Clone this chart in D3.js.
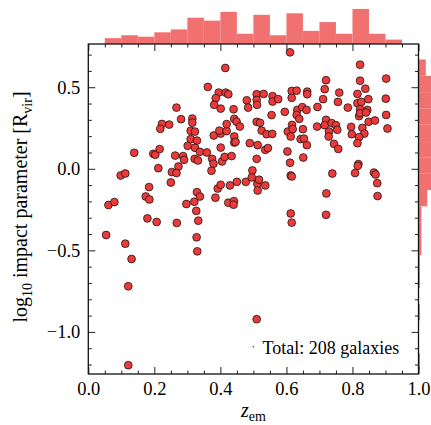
<!DOCTYPE html>
<html>
<head>
<meta charset="utf-8">
<script src="https://cdn.jsdelivr.net/npm/d3@7"></script>
<style>
  html, body { margin: 0; padding: 0; background: #fff; }
  svg { display: block; }
  text { font-family: "Liberation Serif", "DejaVu Serif", serif; fill: #000; }
</style>
</head>
<body>
<svg id="chart" width="431" height="425"></svg>
<script>
// Emission redshift of each absorber host and log10 of its impact parameter in virial radii
const zem = [
  0.415, 0.362, 0.395, 0.416, 0.424, 0.386, 0.381, 0.401, 0.440, 0.480,
  0.484, 0.510, 0.510, 0.511, 0.267, 0.281, 0.315, 0.315, 0.223, 0.245,
  0.218, 0.310, 0.323, 0.310, 0.329, 0.301, 0.323, 0.338, 0.359, 0.380,
  0.401, 0.397, 0.419, 0.419, 0.442, 0.449, 0.459, 0.442, 0.442, 0.446,
  0.401, 0.489, 0.513, 0.510, 0.520, 0.139, 0.197, 0.203, 0.216, 0.263,
  0.287, 0.290, 0.322, 0.332, 0.375, 0.379, 0.373, 0.405, 0.413, 0.434,
  0.510, 0.212, 0.273, 0.253, 0.267, 0.098, 0.112, 0.250, 0.184, 0.174,
  0.185, 0.061, 0.079, 0.329, 0.338, 0.392, 0.401, 0.385, 0.429, 0.450,
  0.477, 0.497, 0.495, 0.512, 0.513, 0.297, 0.321, 0.327, 0.424, 0.441,
  0.440, 0.179, 0.207, 0.268, 0.333, 0.328, 0.330, 0.054, 0.112, 0.131,
  0.121, 0.121, 0.510, 0.613, 0.616, 0.720, 0.611, 0.823, 0.902, 0.720,
  0.823, 0.839, 0.531, 0.558, 0.558, 0.575, 0.616, 0.631, 0.616, 0.663,
  0.663, 0.716, 0.711, 0.760, 0.756, 0.815, 0.815, 0.827, 0.848, 0.901,
  0.595, 0.633, 0.631, 0.648, 0.661, 0.639, 0.694, 0.786, 0.823, 0.820,
  0.845, 0.849, 0.868, 0.823, 0.841, 0.902, 0.525, 0.540, 0.557, 0.555,
  0.617, 0.604, 0.619, 0.613, 0.650, 0.693, 0.720, 0.716, 0.737, 0.750,
  0.729, 0.754, 0.728, 0.643, 0.653, 0.662, 0.796, 0.798, 0.830, 0.836,
  0.820, 0.815, 0.906, 0.744, 0.757, 0.536, 0.544, 0.603, 0.651, 0.611,
  0.818, 0.816, 0.613, 0.616, 0.739, 0.808, 0.865, 0.870, 0.875, 0.876,
  0.517, 0.536, 0.721
];
const logImpact = [
  0.618, 0.502, 0.467, 0.467, 0.457, 0.433, 0.392, 0.369, 0.365, 0.420,
  0.375, 0.457, 0.422, 0.392, 0.375, 0.304, 0.308, 0.283, 0.275, 0.271,
  0.245, 0.233, 0.228, 0.182, 0.173, 0.141, 0.129, 0.104, 0.100, 0.204,
  0.216, 0.234, 0.231, 0.274, 0.306, 0.289, 0.259, 0.198, 0.161, 0.165,
  0.130, 0.157, 0.145, 0.288, 0.282, 0.098, 0.092, 0.086, 0.121, 0.081,
  0.078, 0.055, 0.061, 0.051, 0.061, 0.031, -0.012, 0.045, 0.073, 0.078,
  0.061, 0.004, 0.014, -0.020, -0.026, -0.041, -0.029, -0.084, -0.112, -0.170,
  -0.188, -0.222, -0.204, -0.143, -0.170, -0.121, -0.098, -0.177, -0.102, -0.080,
  -0.080, -0.010, -0.053, -0.092, -0.133, -0.216, -0.202, -0.258, -0.208, -0.198,
  -0.220, -0.304, -0.326, -0.332, -0.318, -0.420, -0.506, -0.406, -0.459, -0.553,
  -0.720, -1.204, -0.922, -0.274, -0.330, -0.282, 0.714, 0.638, 0.553, 0.543,
  0.540, 0.491, 0.459, 0.445, 0.412, 0.427, 0.477, 0.479, 0.435, 0.473,
  0.457, 0.488, 0.427, 0.467, 0.410, 0.459, 0.402, 0.410, 0.427, 0.430,
  0.349, 0.361, 0.330, 0.378, 0.361, 0.306, 0.379, 0.375, 0.365, 0.323,
  0.361, 0.288, 0.296, 0.341, 0.345, 0.330, 0.234, 0.212, 0.214, 0.329,
  0.269, 0.228, 0.243, 0.198, 0.243, 0.259, 0.300, 0.267, 0.280, 0.267,
  0.228, 0.239, 0.198, 0.182, 0.185, 0.145, 0.257, 0.212, 0.251, 0.216,
  0.194, 0.157, 0.247, 0.153, 0.122, 0.116, 0.127, 0.106, 0.069, 0.037,
  0.029, 0.018, -0.041, -0.047, -0.029, -0.026, -0.023, -0.035, -0.088, -0.167,
  -0.067, -0.102, -0.151
];

// Marginal histogram of redshift: bin edges and galaxy counts
const zBinEdges = [0.05, 0.10, 0.15, 0.20, 0.25, 0.30, 0.35, 0.40, 0.45, 0.50,
                   0.55, 0.60, 0.65, 0.70, 0.75, 0.80, 0.85, 0.90, 0.95];
const zCounts = [4, 6, 5, 8, 10, 18, 16, 22, 7, 20, 6, 21, 9, 15, 7, 24, 7, 3];

// Marginal histogram of log impact parameter
const bBinEdges = [-1.23, -1.13, -1.03, -0.93, -0.83, -0.73, -0.63, -0.53, -0.43, -0.33, -0.23,
                   -0.13, -0.03, 0.07, 0.17, 0.27, 0.37, 0.47, 0.57, 0.67, 0.77];
const bCounts = [1, 0, 0, 1, 0, 1, 1, 2, 2, 2, 6, 20, 20, 20, 33, 36, 39, 14, 5, 0];

const xTicks = [0.0, 0.2, 0.4, 0.6, 0.8, 1.0];
const yTicks = [-1.0, -0.5, 0.0, 0.5];
const legendLabel = "Total: 208 galaxies";

const svg = d3.select("#chart");
const plotL = 88.3, plotR = 418.5, plotT = 44, plotB = 374;

const x = d3.scaleLinear().domain([0, 1]).range([plotL, plotR]);
const y = d3.scaleLinear().domain([-1.258, 0.765]).range([plotB, plotT]);

// count scales for the marginal panels
const hTop = d3.scaleLinear().domain([0, 25.2]).range([plotT, plotT - 36.8]);
const hRight = d3.scaleLinear().domain([0, 25.2]).range([plotR, plotR + 36.8]);

const histColor = "#f17171";

// top histogram
svg.append("g").selectAll("rect")
  .data(zCounts)
  .join("rect")
  .attr("x", (d, i) => x(zBinEdges[i]))
  .attr("width", (d, i) => x(zBinEdges[i + 1]) - x(zBinEdges[i]))
  .attr("y", d => hTop(d))
  .attr("height", d => hTop(0) - hTop(d))
  .attr("fill", histColor);

// right histogram (clipped to the main panel height)
svg.append("clipPath").attr("id", "rclip")
  .append("rect").attr("x", plotR).attr("y", plotT).attr("width", 60).attr("height", plotB - plotT);
svg.append("g").attr("clip-path", "url(#rclip)").selectAll("rect")
  .data(bCounts)
  .join("rect")
  .attr("x", plotR)
  .attr("y", (d, i) => y(bBinEdges[i + 1]))
  .attr("height", (d, i) => y(bBinEdges[i]) - y(bBinEdges[i + 1]))
  .attr("width", d => hRight(d) - hRight(0))
  .attr("fill", histColor);

// scatter points
const pts = zem.map((z, i) => ({ z, b: logImpact[i] }));
svg.append("g").selectAll("circle")
  .data(pts)
  .join("circle")
  .attr("cx", d => x(d.z))
  .attr("cy", d => y(d.b))
  .attr("r", 3.9)
  .attr("fill", "#ec3a3a")
  .attr("stroke", "#111")
  .attr("stroke-width", 0.75);

// axes: inward ticks on all four sides
const fmt = d => d3.format(".1f")(d).replace("-", "\u2212");
const xMinor = d3.range(0, 1.0001, 0.05).filter(v => Math.abs(v * 5 - Math.round(v * 5)) > 1e-6);
const yMinor = d3.range(-1.2, 0.75, 0.1).map(v => +v.toFixed(2)).filter(v => Math.abs(v * 2 - Math.round(v * 2)) > 1e-6);

function styleAxis(g) {
  g.select(".domain").remove();
  g.selectAll(".tick line").attr("stroke", "#222").attr("stroke-width", 1);
  g.selectAll(".tick text").style("font-family", "'Liberation Serif', serif").style("font-size", "18.5px").attr("fill", "#000");
}

svg.append("g").attr("transform", `translate(0,${plotB})`)
  .call(d3.axisBottom(x).tickValues(xTicks).tickSize(-7).tickPadding(8.3).tickFormat(fmt)).call(styleAxis);
svg.append("g").attr("transform", `translate(0,${plotB})`)
  .call(d3.axisBottom(x).tickValues(xMinor).tickSize(-3.5).tickFormat("")).call(styleAxis);
svg.append("g").attr("transform", `translate(0,${plotT})`)
  .call(d3.axisTop(x).tickValues(xTicks).tickSize(-7).tickFormat("")).call(styleAxis);
svg.append("g").attr("transform", `translate(0,${plotT})`)
  .call(d3.axisTop(x).tickValues(xMinor).tickSize(-3.5).tickFormat("")).call(styleAxis);

svg.append("g").attr("transform", `translate(${plotL},0)`)
  .call(d3.axisLeft(y).tickValues(yTicks).tickSize(-7).tickPadding(8).tickFormat(fmt)).call(styleAxis);
svg.append("g").attr("transform", `translate(${plotL},0)`)
  .call(d3.axisLeft(y).tickValues(yMinor).tickSize(-3.5).tickFormat("")).call(styleAxis);
svg.append("g").attr("transform", `translate(${plotR},0)`)
  .call(d3.axisRight(y).tickValues(yTicks).tickSize(-7).tickFormat("")).call(styleAxis);
svg.append("g").attr("transform", `translate(${plotR},0)`)
  .call(d3.axisRight(y).tickValues(yMinor).tickSize(-3.5).tickFormat("")).call(styleAxis);

// frame
svg.append("rect")
  .attr("x", plotL).attr("y", plotT)
  .attr("width", plotR - plotL).attr("height", plotB - plotT)
  .attr("fill", "none").attr("stroke", "#111").attr("stroke-width", 1.3);

// axis titles
const xl = svg.append("text")
  .attr("x", (plotL + plotR) / 2).attr("y", 416.5)
  .attr("text-anchor", "middle").style("font-size", "20px");
xl.append("tspan").style("font-style", "italic").text("z");
xl.append("tspan").attr("dy", 4).style("font-size", "14px").text("em");

const yl = svg.append("text")
  .attr("transform", `translate(27,${(plotT + plotB) / 2 - 2}) rotate(-90)`)
  .attr("text-anchor", "middle").style("font-size", "20px");
yl.append("tspan").text("log");
yl.append("tspan").attr("dy", 4.5).style("font-size", "14px").text("10");
yl.append("tspan").attr("dy", -4.5).text(" impact parameter [R");
yl.append("tspan").attr("dy", 4.5).style("font-size", "14px").text("vir");
yl.append("tspan").attr("dy", -4.5).text("]");

// legend
svg.append("circle").attr("cx", 253.3).attr("cy", 346.8).attr("r", 0.7).attr("fill", "#2020d0");
svg.append("text").attr("x", 262.5).attr("y", 353.5).style("font-size", "18px").text(legendLabel);
</script>
</body>
</html>
